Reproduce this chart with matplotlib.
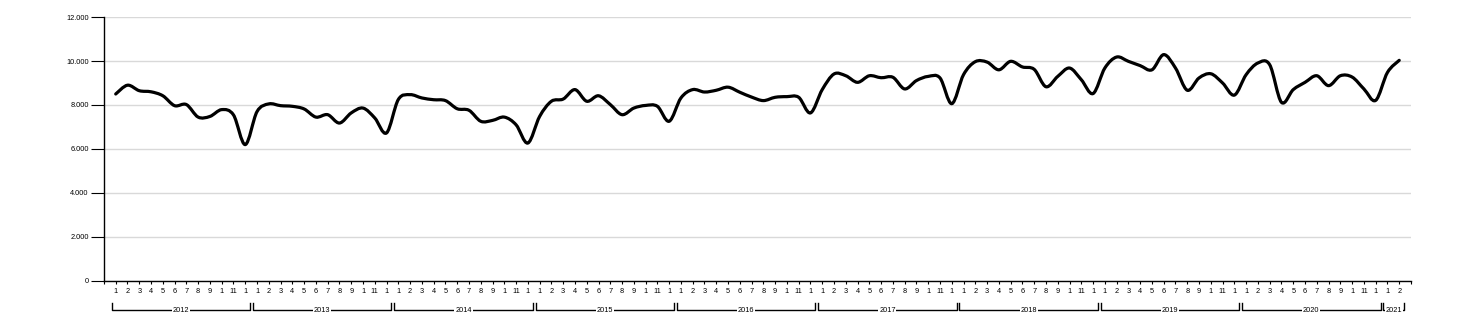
import matplotlib.pyplot as plt
import matplotlib.transforms as mtransforms
from matplotlib.path import Path
from matplotlib.patches import PathPatch
import numpy as np

plt.rcParams['font.family'] = ['Liberation Sans', 'DejaVu Sans']

# monthly values, Jan 2012 .. Feb 2021
values = [
    8500, 8900, 8650, 8600, 8420, 7970, 8020, 7450, 7480, 7790, 7550, 6200,   # 2012
    7700, 8050, 7970, 7940, 7820, 7450, 7560, 7180, 7640, 7860, 7410, 6730,   # 2013
    8250, 8470, 8320, 8240, 8200, 7830, 7760, 7260, 7300, 7450, 7100, 6270,   # 2014
    7480, 8170, 8270, 8700, 8170, 8420, 8020, 7560, 7860, 7980, 7940, 7260,   # 2015
    8320, 8700, 8590, 8670, 8810, 8580, 8360, 8200, 8350, 8380, 8350, 7640,   # 2016
    8700, 9410, 9330, 9030, 9330, 9240, 9260, 8730, 9110, 9300, 9230, 8060,   # 2017
    9380, 9970, 9950, 9600, 9985, 9730, 9620, 8830, 9300, 9680, 9150, 8520,   # 2018
    9680, 10180, 9985, 9790, 9600, 10290, 9680, 8670, 9230, 9420, 9000, 8450,  # 2019
    9380, 9910, 9830, 8120, 8700, 9030, 9330, 8880, 9330, 9270, 8730, 8210,   # 2020
    9480, 10030,                                                            # 2021
]
years = ['2012', '2013', '2014', '2015', '2016', '2017', '2018', '2019', '2020', '2021']
month_labels = ['1', '2', '3', '4', '5', '6', '7', '8', '9', '1', '11', '1']
y_ticks = [0, 2000, 4000, 6000, 8000, 10000, 12000]

n = len(values)
x = np.arange(n)
y = np.array(values, dtype=float)

fig = plt.figure(figsize=(14.64, 3.27), dpi=100)
ax = fig.add_axes([0.0710, 0.1407, 0.8928, 0.8073])

# smooth cardinal curve through the points as cubic bezier segments
px = np.concatenate([[x[0]], x, [x[-1]]])
py = np.concatenate([[y[0]], y, [y[-1]]])
verts = [(x[0], y[0])]
codes = [Path.MOVETO]
for i in range(1, n):
    p0 = np.array([px[i - 1], py[i - 1]])
    p1 = np.array([px[i], py[i]])
    p2 = np.array([px[i + 1], py[i + 1]])
    p3 = np.array([px[i + 2], py[i + 2]])
    c1 = p1 + (p2 - p0) / 6
    c2 = p2 - (p3 - p1) / 6
    verts += [tuple(c1), tuple(c2), tuple(p2)]
    codes += [Path.CURVE4] * 3
ax.add_patch(PathPatch(Path(verts, codes), facecolor='none', edgecolor='black',
                       lw=2.3, capstyle='round', joinstyle='round', zorder=3))

ax.set_xlim(-1, n)
ax.set_ylim(0, 12000)

for t in y_ticks:
    ax.axhline(t, color='#d9d9d9', lw=1, zorder=1)

ax.set_yticks(y_ticks)
ax.set_yticklabels([f'{t:,}'.replace(',', '.') for t in y_ticks])
ax.tick_params(axis='y', length=9.5, width=0.8, labelsize=5.3, pad=1.5, colors='black')

ax.set_xticks(x)
ax.set_xticklabels([month_labels[i % 12] for i in x])
ax.set_xticks([-1, n], minor=True)
ax.tick_params(axis='x', which='both', length=2.5, width=0.8, labelsize=5.3, pad=2.5)

for s in ['top', 'right']:
    ax.spines[s].set_visible(False)
ax.spines['left'].set_linewidth(1)
ax.spines['bottom'].set_linewidth(1)

# year brackets below the month labels
trans = mtransforms.blended_transform_factory(ax.transData, fig.transFigure)
yb = 1 - 310 / 327
yt = 1 - 303 / 327
for k, yr in enumerate(years):
    first = 12 * k
    last = min(12 * k + 11, n - 1)
    x0, x1 = first - 0.35, last + 0.42
    ax.plot([x0, x0, x1, x1], [yt, yb, yb, yt], color='black', lw=1,
            transform=trans, clip_on=False)
    ax.text((x0 + x1) / 2, yb, yr, transform=trans, ha='center', va='center',
            fontsize=5.3, bbox=dict(facecolor='white', edgecolor='none', pad=0.6))

fig.savefig('out.png', dpi=100)
